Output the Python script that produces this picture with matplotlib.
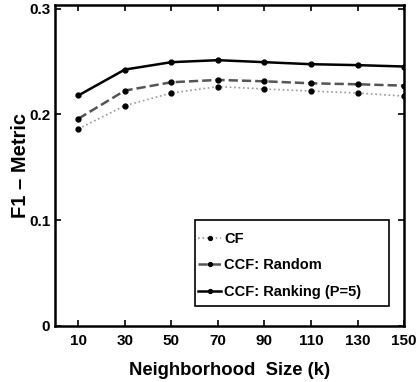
import numpy as np
import matplotlib.pyplot as plt
from matplotlib.patches import Rectangle

plt.rcParams['font.family'] = ['Liberation Sans', 'DejaVu Sans']
plt.rcParams['font.weight'] = 'bold'

k = [10, 30, 50, 70, 90, 110, 130, 150]
cf = [0.1864, 0.2083, 0.2203, 0.2264, 0.2241, 0.2222, 0.2203, 0.2174]
ccf_random = [0.196, 0.2226, 0.2305, 0.2327, 0.2314, 0.2295, 0.2286, 0.2273]
ccf_ranking = [0.218, 0.2425, 0.2495, 0.2514, 0.2495, 0.2476, 0.2467, 0.2454]

fig = plt.figure(figsize=(4.2, 3.82), dpi=100)
ax = fig.add_axes([0.131, 0.147, 0.831, 0.841])

ax.plot(k, cf, ':', color='#999999', lw=1.2, marker='o', ms=3.5,
        mfc='black', mec='black', label='CF')
ax.plot(k, ccf_random, '--', color='#555555', lw=1.8, marker='o', ms=3.5,
        mfc='black', mec='black', label='CCF: Random')
ax.plot(k, ccf_ranking, '-', color='black', lw=1.8, marker='o', ms=3.5,
        mfc='black', mec='black', label='CCF: Ranking (P=5)')

ax.set_xlim(0, 150)
ax.set_ylim(0, 0.304)
ax.set_xticks(k)
ax.set_yticks([0, 0.1, 0.2, 0.3])
ax.set_yticklabels(['0', '0.1', '0.2', '0.3'])
ax.tick_params(direction='in', top=True, right=True, labelsize=11, width=1.2, length=4)
ax.tick_params(axis='x', pad=6)
for s in ax.spines.values():
    s.set_linewidth(1.8)

ax.set_xlabel('Neighborhood  Size (k)', fontsize=13.3, fontweight='bold', labelpad=10)
ax.set_ylabel('F1 \u2013 Metric', fontsize=14.5, fontweight='bold', labelpad=-1)

# legend box drawn separately (wide right margin like the original)
ax.add_patch(Rectangle((0.401, 0.062), 0.556, 0.268, transform=ax.transAxes,
                       facecolor='white', edgecolor='black', lw=1.2, zorder=4))
leg = ax.legend(loc='upper left', bbox_to_anchor=(0.41, 0.292), fontsize=10.5,
                frameon=False, borderpad=0, borderaxespad=0, markerscale=0.8,
                handlelength=1.6, labelspacing=0.85, handletextpad=0.2)
leg.set_zorder(5)

fig.savefig('out.png', dpi=100)
